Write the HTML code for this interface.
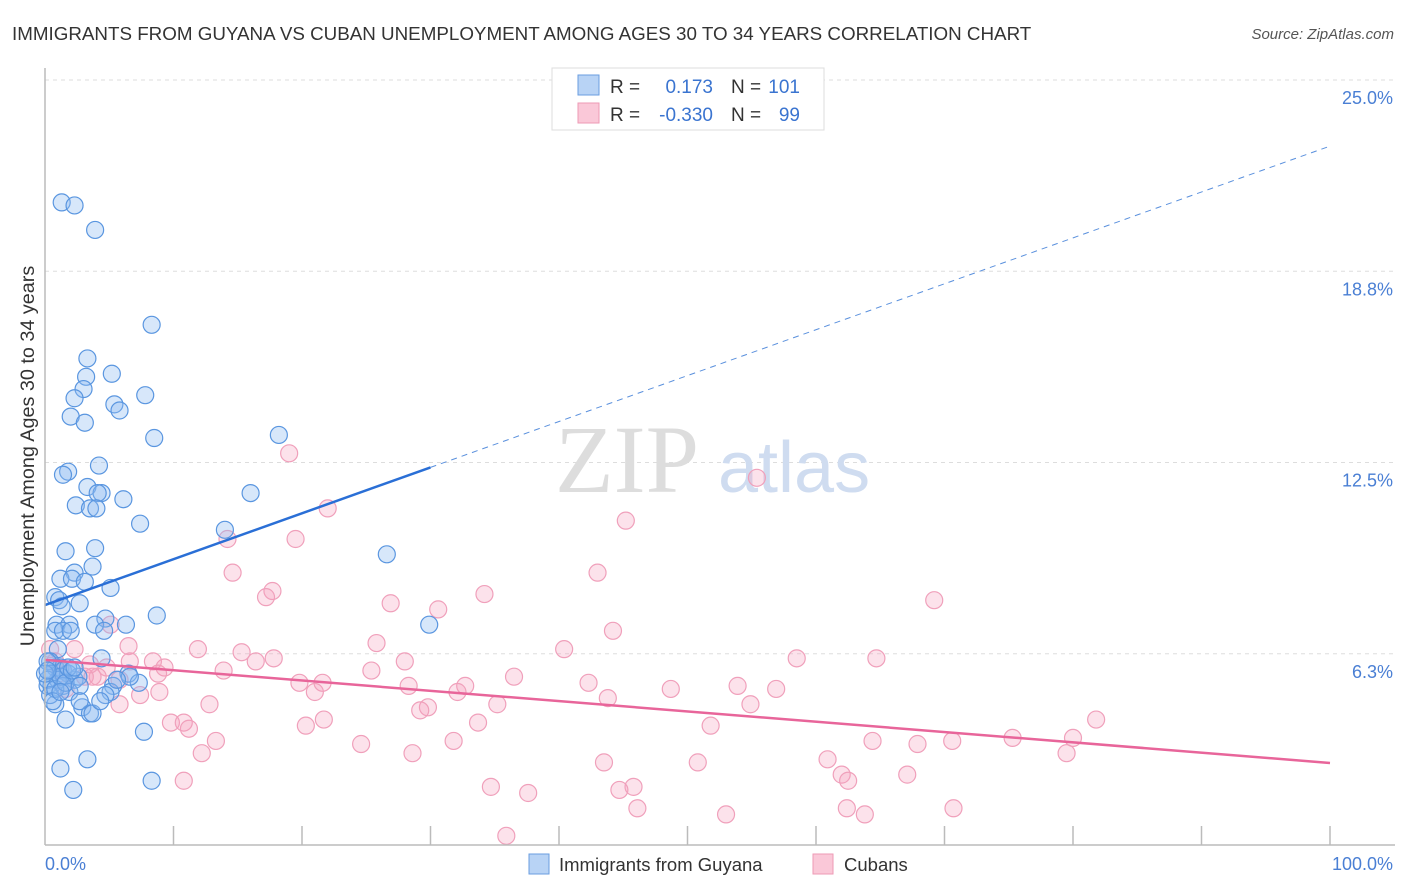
<!DOCTYPE html>
<html><head><meta charset="utf-8"><style>
body{margin:0;background:#fff;font-family:"Liberation Sans",sans-serif}
#c{position:absolute;left:0;top:0}
</style></head><body>
<svg id="c" width="1406" height="892" xmlns="http://www.w3.org/2000/svg" font-family="Liberation Sans, sans-serif">
<text x="12" y="40" font-size="18.8" fill="#333">IMMIGRANTS FROM GUYANA VS CUBAN UNEMPLOYMENT AMONG AGES 30 TO 34 YEARS CORRELATION CHART</text>
<text x="1394" y="39" font-size="15" fill="#555" font-style="italic" text-anchor="end">Source: ZipAtlas.com</text>
<text x="34" y="456" font-size="19.8" fill="#333" text-anchor="middle" transform="rotate(-90 34 456)">Unemployment Among Ages 30 to 34 years</text>
<g id="grid"></g>
<text x="555" y="492" font-size="96" fill="#ddd" font-family="Liberation Serif, serif">ZIP</text>
<text x="718" y="492" font-size="72" fill="#cfdcf0">atlas</text>
<g id="pts"></g>
<g id="lines"></g>
<g id="axes"></g>
<g>
<rect x="552" y="68" width="272" height="62" fill="#fff" stroke="#ddd"/>
<rect x="578" y="75" width="21" height="20" fill="#b8d3f5" stroke="#6a9ee0"/>
<rect x="578" y="103" width="21" height="20" fill="#fac8d8" stroke="#ee9ab5"/>
<text x="610" y="93" font-size="19" fill="#333">R =</text>
<text x="713" y="93" font-size="19" fill="#3a74d0" text-anchor="end">0.173</text>
<text x="731" y="93" font-size="19" fill="#333">N =</text>
<text x="800" y="93" font-size="19" fill="#3a74d0" text-anchor="end">101</text>
<text x="610" y="121" font-size="19" fill="#333">R =</text>
<text x="713" y="121" font-size="19" fill="#3a74d0" text-anchor="end">-0.330</text>
<text x="731" y="121" font-size="19" fill="#333">N =</text>
<text x="800" y="121" font-size="19" fill="#3a74d0" text-anchor="end">99</text>
</g>
<g>
<rect x="529" y="854" width="20" height="20" fill="#b8d3f5" stroke="#6a9ee0"/>
<text x="559" y="871" font-size="18.5" fill="#333">Immigrants from Guyana</text>
<rect x="813" y="854" width="20" height="20" fill="#fac8d8" stroke="#ee9ab5"/>
<text x="844" y="871" font-size="18.5" fill="#333">Cubans</text>
</g>
</svg>
<script>
const yTicks=[6.25,12.5,18.75,25];
const yTickLabels=["6.3%","12.5%","18.8%","25.0%"];
const xTickLabels=["0.0%","100.0%"];
const blueX=[1.3,2.3,3.9,8.3,3.3,5.2,3.2,3.0,7.8,2.3,5.4,5.8,2.0,3.1,8.5,18.2,4.2,1.8,1.4,3.3,4.4,4.1,16.0,6.1,2.4,3.5,4.0,7.4,14.0,1.6,3.9,26.6,3.7,2.3,1.2,2.1,3.1,5.1,0.8,1.1,2.7,8.7,1.3,4.7,6.3,29.9,0.9,1.9,3.9,0.8,1.4,2.0,4.6,1.0,4.4,0.4,0.8,1.2,0.2,0.5,1.4,1.8,2.3,6.5,2.6,0.2,0.5,1.0,1.4,1.9,5.3,7.3,5.1,4.7,2.9,0.8,3.5,3.7,1.6,7.7,1.2,3.3,2.2,8.3,0.2,0.4,0.8,1.2,1.6,0.0,0.2,6.6,1.8,2.1,2.7,4.3,0.6,5.6,2.7,1.2,2.3];
const blueY=[21.0,20.9,20.1,17.0,15.9,15.4,15.3,14.9,14.7,14.6,14.4,14.2,14.0,13.8,13.3,13.4,12.4,12.2,12.1,11.7,11.5,11.5,11.5,11.3,11.1,11.0,11.0,10.5,10.3,9.6,9.7,9.5,9.1,8.9,8.7,8.7,8.6,8.4,8.1,8.0,7.9,7.5,7.8,7.4,7.2,7.2,7.2,7.2,7.2,7.0,7.0,7.0,7.0,6.4,6.1,6.0,5.8,5.8,6.0,5.6,5.7,5.6,5.4,5.6,5.5,5.2,5.2,5.4,5.2,5.0,5.2,5.3,5.0,4.9,4.5,4.6,4.3,4.3,4.1,3.7,2.5,2.8,1.8,2.1,5.4,4.9,5.1,5.5,5.3,5.6,5.7,5.5,5.8,5.7,5.2,4.7,4.7,5.4,4.7,5.0,5.8];
const pinkX=[19.0,22.0,55.4,45.2,14.2,19.5,14.6,43.0,17.7,17.2,34.2,26.9,30.6,69.2,44.2,5.1,25.8,40.4,15.3,11.9,6.5,58.5,64.7,17.8,16.4,28.0,8.4,2.3,9.3,13.9,4.8,8.8,25.4,21.6,36.5,4.1,3.7,19.8,28.3,32.7,42.3,48.7,53.9,56.9,21.0,32.1,7.4,12.8,43.8,5.8,54.9,35.2,29.8,29.2,21.7,20.3,33.7,9.8,10.8,11.2,51.8,81.8,80.0,13.3,64.4,75.3,70.6,67.9,24.6,31.8,12.2,28.6,79.5,60.9,43.5,50.8,62.0,62.5,10.8,67.1,34.7,45.8,44.7,37.6,46.1,70.7,62.4,53.0,63.8,35.9,0.8,1.2,3.1,1.6,5.8,0.4,3.5,6.6,8.9];
const pinkY=[12.8,11.0,12.0,10.6,10.0,10.0,8.9,8.9,8.3,8.1,8.2,7.9,7.7,8.0,7.0,7.2,6.6,6.4,6.3,6.4,6.5,6.1,6.1,6.1,6.0,6.0,6.0,6.4,5.8,5.7,5.8,5.6,5.7,5.3,5.5,5.5,5.5,5.3,5.2,5.2,5.3,5.1,5.2,5.1,5.0,5.0,4.9,4.6,4.8,4.6,4.6,4.6,4.5,4.4,4.1,3.9,4.0,4.0,4.0,3.8,3.9,4.1,3.5,3.4,3.4,3.5,3.4,3.3,3.3,3.4,3.0,3.0,3.0,2.8,2.7,2.7,2.3,2.1,2.1,2.3,1.9,1.9,1.8,1.7,1.2,1.2,1.2,1.0,1.0,0.3,6.0,5.7,5.5,5.1,5.4,6.4,5.9,6.0,5.0];
const blueTrend=[7.84,22.84];
const pinkTrend=[6.05,2.68];
const NS="http://www.w3.org/2000/svg";
const X=v=>45+v*12.85, Y=v=>845-v*30.6;
function mk(t,a,p){const e=document.createElementNS(NS,t);for(const k in a)e.setAttribute(k,a[k]);p.appendChild(e);return e;}
const grid=document.getElementById('grid'),axes=document.getElementById('axes');
yTicks.forEach((v,i)=>{
 const l=mk('line',{x1:45,x2:1395,y1:Y(v),y2:Y(v),stroke:'#ddd','stroke-dasharray':'4,4'},grid);
 
 
 const t=mk('text',{x:1393,y:Y(v)+24,'font-size':18,fill:'#4a7fd4','text-anchor':'end'},axes);
 t.textContent=yTickLabels[i];
 
 
});
mk('line',{x1:45,x2:1395,y1:Y(0),y2:Y(0),stroke:'#bbb','stroke-width':1.5},axes);
mk('line',{x1:45,x2:45,y1:68,y2:Y(0),stroke:'#bbb','stroke-width':1.5},axes);
for(let i=1;i<=10;i++)mk('line',{x1:X(i*10),x2:X(i*10),y1:Y(0),y2:Y(0)-19,stroke:'#bbb','stroke-width':1.5},axes);
[[0,X(0),'start'],[1,1393,'end']].forEach(([i,x,a])=>{const t=mk('text',{x:x,y:870,'font-size':18,fill:'#4a7fd4','text-anchor':a},axes);t.textContent=xTickLabels[i];
 
 });
const pts=document.getElementById('pts');
pinkX.forEach((x,i)=>{const c=mk('circle',{cx:X(x),cy:Y(pinkY[i]),r:8.5,fill:'rgba(245,160,190,0.3)',stroke:'#f0a0bb','stroke-width':1.2},pts);
 
 });
blueX.forEach((x,i)=>{const c=mk('circle',{cx:X(x),cy:Y(blueY[i]),r:8.5,fill:'rgba(140,185,240,0.35)',stroke:'#5a96e0','stroke-width':1.2},pts);
 
 });
const ln=document.getElementById('lines');
const bt=x=>blueTrend[0]+(blueTrend[1]-blueTrend[0])*x/100;
let l1=mk('line',{x1:X(0),y1:Y(bt(0)),x2:X(30),y2:Y(bt(30)),stroke:'#2a6fd6','stroke-width':2.5},ln);


let l2=mk('line',{x1:X(30),y1:Y(bt(30)),x2:X(100),y2:Y(bt(100)),stroke:'#5a90dd','stroke-width':1,'stroke-dasharray':'6,5'},ln);


let l3=mk('line',{x1:X(0),y1:Y(pinkTrend[0]),x2:X(100),y2:Y(pinkTrend[1]),stroke:'#e8659a','stroke-width':2.5},ln);


</script>
</body></html>
